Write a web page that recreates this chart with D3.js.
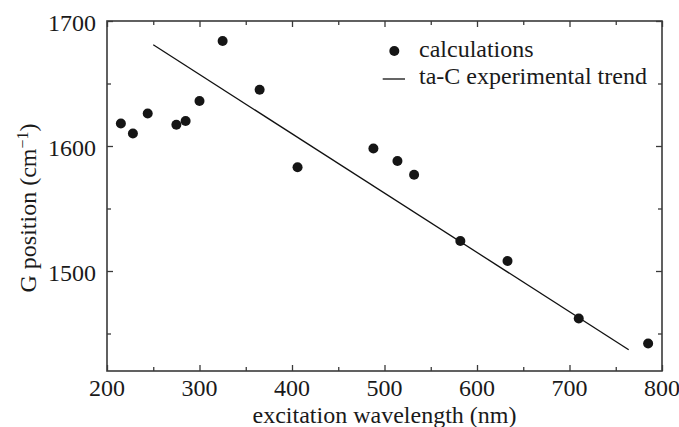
<!DOCTYPE html>
<html><head><meta charset="utf-8">
<script src="https://cdn.jsdelivr.net/npm/d3@7/dist/d3.min.js"></script>
</head>
<body style="margin:0;background:#fff">
<svg id="chart" width="679" height="427" font-family="Liberation Serif"></svg>
<script>
const wavelengths = [215, 228, 244, 275, 285, 300, 325, 365, 406, 488, 514, 532, 582, 633, 710, 785];
const gPositions  = [1618, 1610, 1626, 1617, 1620, 1636, 1684, 1645, 1583, 1598, 1588, 1577, 1524, 1508, 1462, 1442];
const trendX = [250, 764];
const trendY = [1681, 1437];
const xMajorTicks = [200, 300, 400, 500, 600, 700, 800];
const yMajorTicks = [1500, 1600, 1700];
const legendLabels = ["calculations", "ta-C experimental trend"];

const svg = d3.select("#chart");
const FONT = "Liberation Serif";
const TXT = "#1a1a1a";
const L = 107, R = 662, T = 21, B = 371;
const x = d3.scaleLinear().domain([200, 800]).range([L, R]);
const y = d3.scaleLinear().domain([1420, 1700]).range([B, T]);
const axisColor = "#3a3a3a";
const fs = 24;

const xMinor = d3.range(250, 800, 100);
const yMinor = [1450, 1550, 1650];

function ticks(axisGen, tr) {
  const g = svg.append("g").attr("transform", tr).call(axisGen);
  g.select(".domain").remove();
  g.selectAll("line").attr("stroke", axisColor).attr("stroke-width", 1.3);
  g.selectAll("text").remove();
  return g;
}
ticks(d3.axisBottom(x).tickValues(xMajorTicks).tickSize(-6), `translate(0,${B})`);
ticks(d3.axisBottom(x).tickValues(xMinor).tickSize(-4), `translate(0,${B})`);
ticks(d3.axisTop(x).tickValues(xMajorTicks).tickSize(-6), `translate(0,${T})`);
ticks(d3.axisTop(x).tickValues(xMinor).tickSize(-4), `translate(0,${T})`);
ticks(d3.axisLeft(y).tickValues(yMajorTicks).tickSize(-6), `translate(${L},0)`);
ticks(d3.axisLeft(y).tickValues(yMinor).tickSize(-4), `translate(${L},0)`);
ticks(d3.axisRight(y).tickValues(yMajorTicks).tickSize(-6), `translate(${R},0)`);
ticks(d3.axisRight(y).tickValues(yMinor).tickSize(-4), `translate(${R},0)`);

svg.append("rect").attr("x", L).attr("y", T).attr("width", R - L).attr("height", B - T)
  .attr("fill", "none").attr("stroke", axisColor).attr("stroke-width", 1.6);

function txt(sel) { return sel.attr("font-family", FONT).attr("fill", TXT).attr("font-size", fs); }

txt(svg.append("g").selectAll("text").data(xMajorTicks).join("text"))
  .attr("x", d => x(d)).attr("y", 396).attr("text-anchor", "middle").text(d => d);
txt(svg.append("g").selectAll("text").data(yMajorTicks).join("text"))
  .attr("x", 96).attr("y", d => y(d) + 9.5).attr("text-anchor", "end").text(d => d);

txt(svg.append("text")).attr("x", (L + R) / 2).attr("y", 423).attr("text-anchor", "middle")
  .text("excitation wavelength (nm)");
const yl = txt(svg.append("text")).attr("transform", "translate(36,208) rotate(-90)")
  .attr("text-anchor", "middle");
yl.append("tspan").text("G position (cm");
yl.append("tspan").attr("dy", -8).attr("font-size", 16).text("\u22121");
yl.append("tspan").attr("dy", 8).text(")");

const line = d3.line().x(d => x(d[0])).y(d => y(d[1]));
svg.append("path").datum(trendX.map((d, i) => [d, trendY[i]]))
  .attr("d", line).attr("fill", "none").attr("stroke", "#111").attr("stroke-width", 1.3);

svg.append("g").selectAll("circle").data(wavelengths).join("circle")
  .attr("cx", d => x(d)).attr("cy", (d, i) => y(gPositions[i]))
  .attr("r", 5).attr("fill", "#151515");

svg.append("circle").attr("cx", 394.3).attr("cy", 51).attr("r", 5).attr("fill", "#151515");
svg.append("line").attr("x1", 382.7).attr("x2", 405).attr("y1", 79).attr("y2", 79)
  .attr("stroke", "#111").attr("stroke-width", 1.3);
txt(svg.append("text")).attr("x", 419).attr("y", 57).text(legendLabels[0]);
txt(svg.append("text")).attr("x", 419).attr("y", 84).text(legendLabels[1]);
</script>
</body></html>
